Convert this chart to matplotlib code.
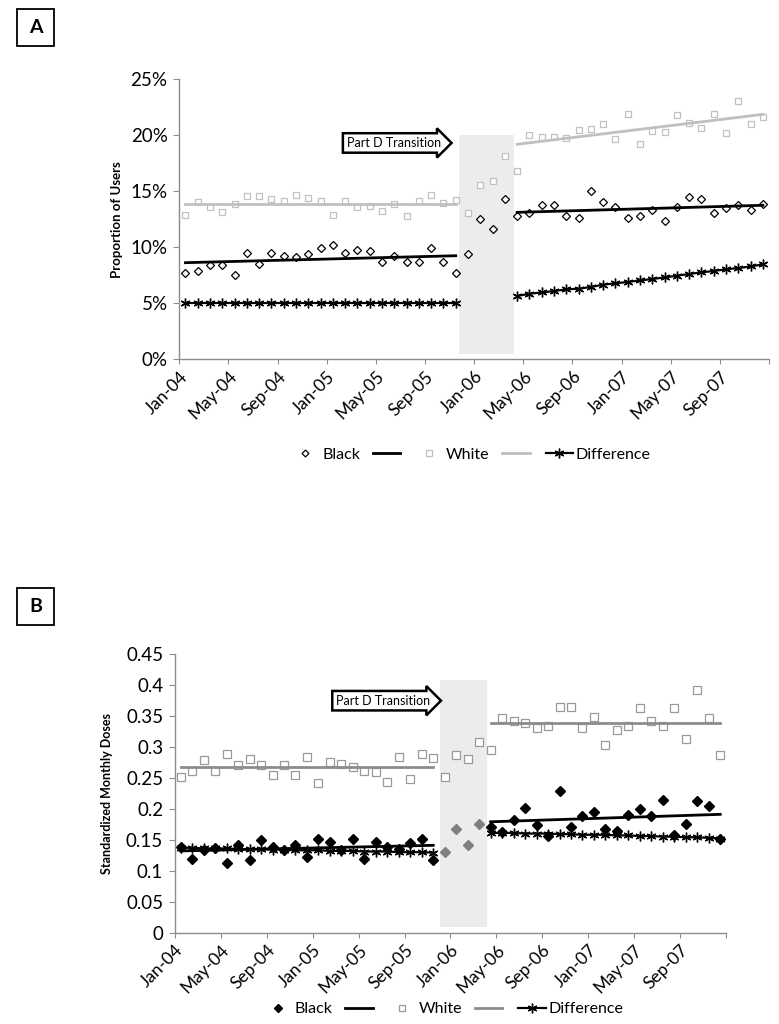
import numpy as np
import matplotlib.pyplot as plt
import matplotlib.transforms as mtransforms
from matplotlib.lines import Line2D
from matplotlib.patches import Rectangle
from matplotlib.ticker import FuncFormatter

plt.rcParams['font.family'] = ['Lato', 'DejaVu Sans']

tick_months = ['Jan-04', 'May-04', 'Sep-04', 'Jan-05', 'May-05', 'Sep-05',
               'Jan-06', 'May-06', 'Sep-06', 'Jan-07', 'May-07', 'Sep-07']

# month index: 0 = Jan-04 ... 47 = Dec-07
x_pre = np.arange(0, 23)     # Jan-04 .. Nov-05
x_gap = np.arange(23, 27)    # Dec-05 .. Mar-06 (transition)
x_post = np.arange(27, 48)   # Apr-06 .. Dec-07

# ---- Panel A: proportion of users (%)
a_black_pre = [7.73, 7.85, 8.38, 8.38, 7.52, 9.51, 8.53, 9.51, 9.24, 9.10, 9.36, 9.93,
               10.23, 9.51, 9.78, 9.66, 8.68, 9.24, 8.68, 8.68, 9.93, 8.68, 7.67]
a_black_gap = [9.39, 12.49, 11.65, 14.30]
a_black_post = [12.75, 13.02, 13.76, 13.76, 12.75, 12.63, 15.04, 14.03, 13.59, 12.63, 12.75,
                13.32, 12.34, 13.62, 14.45, 14.30, 13.02, 13.47, 13.76, 13.32, 13.88]
a_white_pre = [12.84, 14.06, 13.62, 13.11, 13.82, 14.54, 14.60, 14.27, 14.12, 14.66, 14.39, 14.12,
               12.90, 14.12, 13.56, 13.70, 13.23, 13.82, 12.81, 14.12, 14.66, 13.97, 14.18]
a_white_gap = [13.08, 15.58, 15.91, 18.17]
a_white_post = [16.80, 20.01, 19.83, 19.83, 19.74, 20.43, 20.54, 20.99, 19.65, 21.85, 19.21,
                20.40, 20.31, 21.79, 21.05, 20.66, 21.88, 20.22, 23.01, 20.99, 21.59]
a_diff_pre = [5.0, 5.0, 5.0, 5.0, 5.0, 5.0, 5.0, 5.0, 5.0, 5.0, 5.0, 5.0,
              5.0, 5.0, 5.0, 5.0, 5.0, 5.0, 5.0, 5.0, 5.0, 5.0, 5.0]
a_diff_post = [5.65, 5.85, 5.97, 6.09, 6.24, 6.30, 6.45, 6.66, 6.78, 6.90, 7.04,
               7.16, 7.31, 7.46, 7.61, 7.76, 7.88, 8.03, 8.14, 8.29, 8.47]
a_black_trend_pre = [8.62, 9.24]
a_black_trend_post = [13.11, 13.74]
a_white_trend_pre = [13.88, 13.88]
a_white_trend_post = [19.18, 21.85]

# ---- Panel B: standardized monthly doses
b_black_pre = [0.138, 0.119, 0.133, 0.136, 0.112, 0.142, 0.118, 0.149, 0.138, 0.133, 0.142, 0.122,
               0.151, 0.147, 0.133, 0.152, 0.119, 0.146, 0.138, 0.135, 0.144, 0.152, 0.117]
b_black_gap = [0.131, 0.168, 0.142, 0.176]
b_black_post = [0.171, 0.162, 0.182, 0.202, 0.174, 0.156, 0.228, 0.171, 0.188, 0.194, 0.167,
                0.164, 0.190, 0.199, 0.188, 0.214, 0.158, 0.176, 0.212, 0.204, 0.151]
b_white_pre = [0.251, 0.261, 0.279, 0.261, 0.289, 0.271, 0.280, 0.271, 0.255, 0.271, 0.255, 0.284,
               0.241, 0.276, 0.272, 0.268, 0.261, 0.259, 0.244, 0.284, 0.248, 0.289, 0.282]
b_white_gap = [0.252, 0.287, 0.281, 0.308]
b_white_post = [0.295, 0.347, 0.342, 0.339, 0.331, 0.333, 0.365, 0.364, 0.331, 0.348, 0.303,
                0.327, 0.334, 0.363, 0.341, 0.333, 0.362, 0.313, 0.392, 0.347, 0.287]
b_diff_pre = [0.137, 0.137, 0.136, 0.136, 0.136, 0.135, 0.135, 0.135, 0.134, 0.134, 0.133, 0.133,
              0.133, 0.132, 0.132, 0.132, 0.131, 0.131, 0.131, 0.130, 0.130, 0.130, 0.129]
b_diff_post = [0.161, 0.161, 0.161, 0.160, 0.160, 0.160, 0.159, 0.159, 0.158, 0.158, 0.158,
               0.157, 0.157, 0.156, 0.156, 0.155, 0.155, 0.154, 0.154, 0.153, 0.152]
b_black_trend_pre = [0.132, 0.141]
b_black_trend_post = [0.179, 0.191]
b_white_trend_pre = [0.2675, 0.2675]
b_white_trend_post = [0.338, 0.338]

AXC = '#8c8c8c'
ASTER = (6, 2, 0)

fig = plt.figure(figsize=(7.79, 10.24), dpi=100)
axA = fig.add_axes([0.2302, 0.6491, 0.757, 0.2737])
axB = fig.add_axes([0.2246, 0.0892, 0.7073, 0.2722])


def style_axis(ax):
    for s in ['top', 'right']:
        ax.spines[s].set_visible(False)
    for s in ['left', 'bottom']:
        ax.spines[s].set_color(AXC)
        ax.spines[s].set_linewidth(1.0)
    ax.set_xlim(-0.5, 47.5)
    ax.set_xticks(np.arange(-0.5, 48, 4))
    ax.set_xticklabels(tick_months + [''], rotation=45, ha='right', va='top',
                       rotation_mode='anchor', fontsize=12.5)
    shift = mtransforms.ScaledTranslation(5 / 72, 0, fig.dpi_scale_trans)
    for lab in ax.get_xticklabels():
        lab.set_transform(lab.get_transform() + shift)
    ax.tick_params(axis='x', direction='out', length=3.5, color=AXC, pad=3)
    ax.tick_params(axis='y', direction='out', length=4.5, color=AXC, labelsize=13.5, pad=4)


# ---- Panel A
style_axis(axA)
axA.add_patch(Rectangle((22.25, 0.5), 4.5, 19.5, fc='#ececec', ec='none', zorder=0))
axA.plot(x_pre, a_white_pre, ls='none', marker='s', ms=5, mfc='white', mec='#c0c0c0', mew=0.9)
axA.plot(x_gap, a_white_gap, ls='none', marker='s', ms=5, mfc='white', mec='#c0c0c0', mew=0.9)
axA.plot(x_post, a_white_post, ls='none', marker='s', ms=5, mfc='white', mec='#c0c0c0', mew=0.9)
axA.plot(x_pre[[0, -1]], a_white_trend_pre, color='#c0c0c0', lw=2)
axA.plot(x_post[[0, -1]], a_white_trend_post, color='#c0c0c0', lw=2)
axA.plot(x_pre, a_black_pre, ls='none', marker='D', ms=4, mfc='white', mec='black', mew=0.9)
axA.plot(x_gap, a_black_gap, ls='none', marker='D', ms=4, mfc='white', mec='black', mew=0.9)
axA.plot(x_post, a_black_post, ls='none', marker='D', ms=4, mfc='white', mec='black', mew=0.9)
axA.plot(x_pre[[0, -1]], a_black_trend_pre, color='black', lw=2)
axA.plot(x_post[[0, -1]], a_black_trend_post, color='black', lw=2)
axA.plot(x_pre, a_diff_pre, color='black', lw=1.6, marker=ASTER, ms=7, mew=1.0)
axA.plot(x_post, a_diff_post, color='black', lw=1.6, marker=ASTER, ms=7, mew=1.0)
axA.set_ylim(0, 25)
axA.set_yticks([0, 5, 10, 15, 20, 25])
axA.yaxis.set_major_formatter(FuncFormatter(lambda v, p: '%d%%' % v))
axA.set_ylabel('Proportion of Users', fontsize=9.5, fontweight='bold')
axA.yaxis.set_label_coords(-0.096, 0.5)
axA.text(20.78, 19.3, 'Part D Transition', ha='right', va='center', fontsize=9,
         bbox=dict(boxstyle='rarrow,pad=0.3', fc='white', ec='black', lw=1.8))

# ---- Panel B
style_axis(axB)
axB.add_patch(Rectangle((22.6, 0.009), 4.1, 0.399, fc='#ececec', ec='none', zorder=0))
axB.plot(x_pre, b_white_pre, ls='none', marker='s', ms=5.5, mfc='white', mec='#999999', mew=0.9)
axB.plot(x_gap, b_white_gap, ls='none', marker='s', ms=5.5, mfc='white', mec='#999999', mew=0.9)
axB.plot(x_post, b_white_post, ls='none', marker='s', ms=5.5, mfc='white', mec='#999999', mew=0.9)
axB.plot(x_pre[[0, -1]], b_white_trend_pre, color='#8c8c8c', lw=2)
axB.plot(x_post[[0, -1]], b_white_trend_post, color='#8c8c8c', lw=2)
axB.plot(x_pre, b_black_pre, ls='none', marker='D', ms=5, color='black')
axB.plot(x_gap, b_black_gap, ls='none', marker='D', ms=5, color='#7f7f7f')
axB.plot(x_post, b_black_post, ls='none', marker='D', ms=5, color='black')
axB.plot(x_pre[[0, -1]], b_black_trend_pre, color='black', lw=2)
axB.plot(x_post[[0, -1]], b_black_trend_post, color='black', lw=2)
axB.plot(x_pre, b_diff_pre, color='black', lw=1.6, marker=ASTER, ms=7, mew=1.0)
axB.plot(x_post, b_diff_post, color='black', lw=1.6, marker=ASTER, ms=7, mew=1.0)
axB.set_ylim(0, 0.45)
axB.set_yticks(np.arange(0, 0.46, 0.05))
axB.yaxis.set_major_formatter(FuncFormatter(lambda v, p: '0' if v == 0 else ('%.2f' % v).rstrip('0')))
axB.set_ylabel('Standardized Monthly Doses', fontsize=9, fontweight='bold')
axB.yaxis.set_label_coords(-0.1125, 0.5)
axB.text(21.73, 0.3745, 'Part D Transition', ha='right', va='center', fontsize=9,
         bbox=dict(boxstyle='rarrow,pad=0.3', fc='white', ec='black', lw=1.8))

# ---- legends
labels = ['Black', '', 'White', '', 'Difference']
hA = [Line2D([], [], ls='none', marker='D', ms=3.5, mfc='white', mec='black', mew=0.9),
      Line2D([], [], color='black', lw=2),
      Line2D([], [], ls='none', marker='s', ms=4, mfc='white', mec='#c0c0c0', mew=0.9),
      Line2D([], [], color='#c0c0c0', lw=2),
      Line2D([], [], color='black', lw=1.6, marker=ASTER, ms=7, mew=1.0)]
hB = [Line2D([], [], ls='none', marker='D', ms=4, color='black'),
      Line2D([], [], color='black', lw=2),
      Line2D([], [], ls='none', marker='s', ms=4, mfc='white', mec='#999999', mew=0.9),
      Line2D([], [], color='#8c8c8c', lw=2),
      Line2D([], [], color='black', lw=1.6, marker=ASTER, ms=7, mew=1.0)]
fig.legend(hA, labels, ncol=5, loc='center', bbox_to_anchor=(0.605, 0.5557), frameon=False,
           fontsize=11.5, handlelength=1.7, handletextpad=0.2, columnspacing=0.8)
fig.legend(hB, labels, ncol=5, loc='center', bbox_to_anchor=(0.570, 0.0146), frameon=False,
           fontsize=11.5, handlelength=1.7, handletextpad=0.2, columnspacing=0.8)

# ---- panel letters in boxes
for letter, ytop in [('A', 9), ('B', 588)]:
    fig.add_artist(Rectangle((17 / 779, 1 - (ytop + 37) / 1024), 37 / 779, 37 / 1024,
                             transform=fig.transFigure, fill=False, ec='black', lw=1.3))
    fig.text(35.5 / 779, 1 - (ytop + 18.5) / 1024, letter, ha='center', va='center',
             fontsize=14, fontweight='bold')

fig.savefig('out.png', dpi=100)
